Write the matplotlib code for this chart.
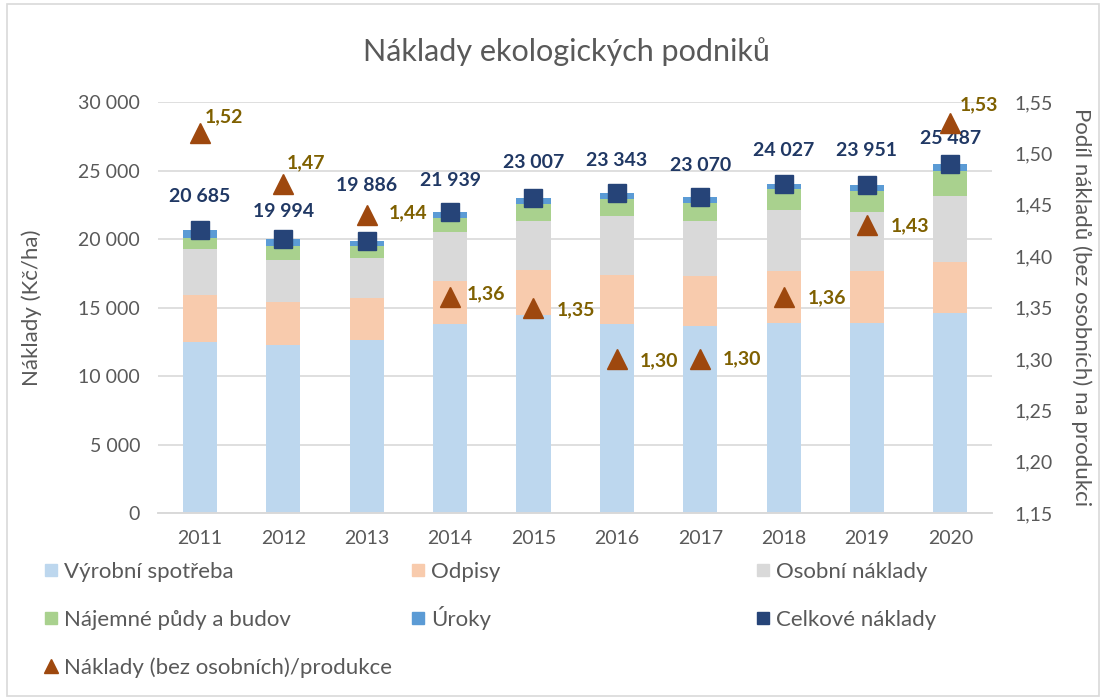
import matplotlib
matplotlib.use("Agg")
import matplotlib.pyplot as plt
import numpy as np
from matplotlib.patches import Rectangle
from matplotlib.lines import Line2D
from matplotlib.ticker import FuncFormatter

# === DATA ===
years = ["2011", "2012", "2013", "2014", "2015", "2016", "2017", "2018", "2019", "2020"]
vyrobni = [12500, 12240, 12660, 13790, 14470, 13790, 13620, 13870, 13870, 14600]
odpisy = [3450, 3190, 3010, 3170, 3280, 3590, 3660, 3770, 3770, 3720]
osobni = [3300, 3070, 2940, 3540, 3600, 4290, 4070, 4500, 4330, 4820]
najemne = [850, 970, 850, 1020, 1230, 1220, 1300, 1540, 1510, 1800]
uroky = [585, 524, 426, 419, 427, 453, 420, 347, 471, 547]
celkove = [20685, 19994, 19886, 21939, 23007, 23343, 23070, 24027, 23951, 25487]
podil = [1.52, 1.47, 1.44, 1.36, 1.35, 1.30, 1.30, 1.36, 1.43, 1.53]

# label offsets (pixels) picked to mimic the original label placement
TOTAL_OFFSETS = [33, 28, 55, 32, 35, 33, 31, 33, 34, 25]
RATIO_OFFSETS = [(5, 16), (4, 22), (22, 2), (17, 4), (23, -2), (23, -2),
                 (23, 0), (24, 0), (24, 0), (9, 18)]

# === STYLE ===
plt.rcParams["font.family"] = ["Lato", "DejaVu Sans"]
GREY_TXT = "#595959"
GRID = "#D9D9D9"
colors = ["#BDD7EE", "#F8CBAD", "#D9D9D9", "#A9D18E", "#5B9BD5"]
names = ["Výrobní spotřeba", "Odpisy", "Osobní náklady", "Nájemné půdy a budov", "Úroky"]
TOTAL_COLOR = "#264478"
RATIO_COLOR = "#9E480E"
RATIO_TXT = "#7F6000"

fig = plt.figure(figsize=(11.06, 6.99), dpi=100)
ax = fig.add_axes([0.143, 0.266, 0.754, 0.588])
ax2 = ax.twinx()

x = np.arange(len(years))
bottom = np.zeros(len(years))
for vals, c in zip([vyrobni, odpisy, osobni, najemne, uroky], colors):
    ax.bar(x, vals, 0.41, bottom=bottom, color=c, zorder=2)
    bottom += np.array(vals)

ax.plot(x, celkove, "s", color=TOTAL_COLOR, markersize=13, zorder=5)
for i, v in enumerate(celkove):
    ax.annotate(f"{v:,}".replace(",", " "), (x[i], v), textcoords="offset pixels",
                xytext=(0, TOTAL_OFFSETS[i]), ha="center", va="center",
                fontsize=14, fontweight="bold", color="#203864", zorder=6)

ax2.plot(x, podil, "^", color=RATIO_COLOR, markersize=14, zorder=5)
for i, v in enumerate(podil):
    dx, dy = RATIO_OFFSETS[i]
    ax2.annotate(f"{v:.2f}".replace(".", ","), (x[i], v), textcoords="offset pixels",
                 xytext=(dx, dy), ha="left", va="center",
                 fontsize=14, fontweight="bold", color=RATIO_TXT)

ax.set_xlim(-0.5, len(years) - 0.5)
ax.set_ylim(0, 30000)
ax.set_yticks(np.arange(0, 30001, 5000))
ax.yaxis.set_major_formatter(FuncFormatter(lambda v, p: f"{int(v):,}".replace(",", " ")))
ax2.set_ylim(1.15, 1.55)
ax2.set_yticks(np.arange(1.15, 1.551, 0.05))
ax2.yaxis.set_major_formatter(FuncFormatter(lambda v, p: f"{v:.2f}".replace(".", ",")))
ax.set_xticks(x)
ax.set_xticklabels(years)

ax.grid(axis="y", color=GRID, linewidth=1.2, zorder=0)
ax.set_axisbelow(True)
for a in (ax, ax2):
    for s in ("top", "left", "right"):
        a.spines[s].set_visible(False)
    a.spines["bottom"].set_color(GRID)
    a.spines["bottom"].set_linewidth(1.2)
    a.tick_params(length=0, labelsize=14, colors=GREY_TXT)
ax.tick_params(axis="y", pad=13)
ax.tick_params(axis="x", pad=12)
ax2.tick_params(axis="y", pad=16)

ax.set_ylabel("Náklady (Kč/ha)", fontsize=16, color=GREY_TXT, labelpad=26)
ax2.set_ylabel("Podíl nákladů (bez osobních) na produkci", fontsize=16,
               color=GREY_TXT, rotation=270, labelpad=28)
fig.text(0.512, 0.926, "Náklady ekologických podniků", ha="center", va="center",
         fontsize=22, color=GREY_TXT)

# legend laid out in three columns like the original
def sq(c):
    return Line2D([], [], marker="s", linestyle="none", color=c, markersize=9)

h = {n: sq(c) for n, c in zip(names, colors)}
h_total = sq(TOTAL_COLOR)
h_ratio = Line2D([], [], marker="^", linestyle="none", color=RATIO_COLOR, markersize=10)
columns = [
    (0.041, 1.25, [h["Výrobní spotřeba"], h["Nájemné půdy a budov"], h_ratio],
     ["Výrobní spotřeba", "Nájemné půdy a budov", "Náklady (bez osobních)/produkce"]),
    (0.373, 1.07, [h["Odpisy"], h["Úroky"]], ["Odpisy", "Úroky"]),
    (0.685, 1.25, [h["Osobní náklady"], h_total], ["Osobní náklady", "Celkové náklady"]),
]
for xpos, spacing, hs, ls in columns:
    fig.legend(hs, ls, loc="upper left", bbox_to_anchor=(xpos, 0.196), frameon=False,
               fontsize=16, labelcolor=GREY_TXT, handlelength=0.5, handleheight=0.7,
               handletextpad=0.35, labelspacing=spacing, borderaxespad=0, borderpad=0)

fig.patches.append(Rectangle((0.006, 0.004), 0.988, 0.99, transform=fig.transFigure,
                             fill=False, edgecolor=GRID, linewidth=1.2))

fig.savefig("out.png", dpi=100)
